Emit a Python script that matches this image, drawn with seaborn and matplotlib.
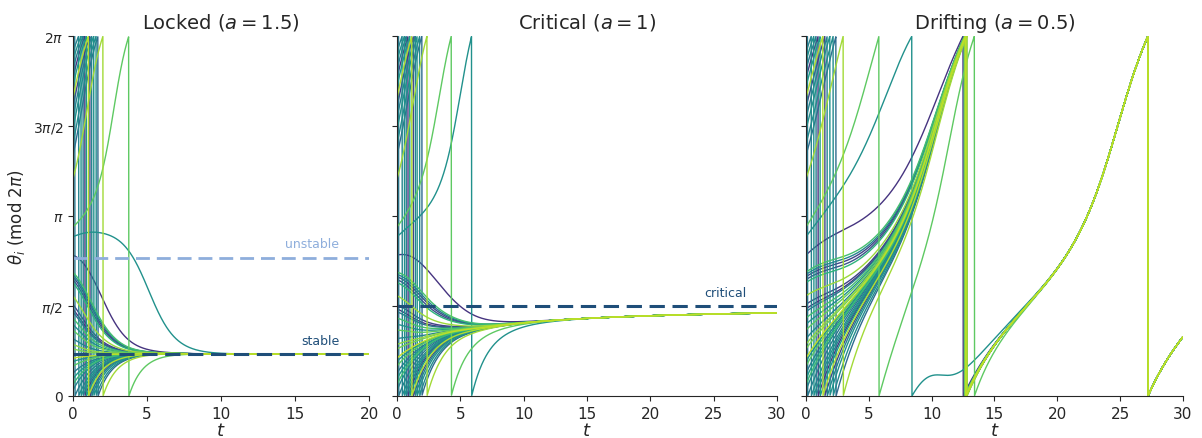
import numpy as np
import pandas as pd
import matplotlib
matplotlib.use("Agg")
import matplotlib.pyplot as plt
import seaborn as sns

# Three forcing regimes of the phase model
titles = ["Locked ($a = 1.5$)", "Critical ($a = 1$)", "Drifting ($a = 0.5$)"]
forcing = [1.5, 1.0, 0.5]
t_end = [20, 30, 30]

# Initial phases (rad) of the oscillator ensemble
theta0 = [6.20, 6.00, 5.85, 5.70, 5.55, 5.40, 5.20, 5.04,
          4.85, 4.65, 4.40, 4.20, 3.79,
          2.95, 2.78, 2.46,
          2.16, 2.12, 2.08, 2.03, 1.98,
          1.75, 1.60, 1.52, 1.47, 1.36, 1.25, 1.15, 1.00, 0.90, 0.82,
          0.66, 0.60, 0.52, 0.40, 0.30, 0.20, 0.10]
# Position of each oscillator on the viridis colour scale
hue_pos = [0.40, 0.45, 0.50, 0.42, 0.15, 0.55, 0.88, 0.20,
           0.45, 0.50, 0.48, 0.35, 0.86,
           0.75, 0.50, 0.15,
           0.70, 0.45, 0.20, 0.25, 0.65,
           0.85, 0.20, 0.15, 0.40, 0.70, 0.50, 0.75, 0.45, 0.83, 0.80,
           0.90, 0.52, 0.74, 0.40, 0.55, 0.68, 0.46]

rate = 0.5        # time scale of the forced phase equation
coupling = 0.45   # mean-field coupling strength
dt = 0.02

ytick_vals = [0, np.pi / 2, np.pi, 3 * np.pi / 2, 2 * np.pi]
ytick_labels = ["0", r"$\pi/2$", r"$\pi$", r"$3\pi/2$", r"$2\pi$"]

dark_blue = "#1f4e79"
light_blue = "#8eaedc"


def rhs(theta, a):
    z = np.exp(1j * theta).mean()
    mean_field = np.imag(z * np.exp(-1j * theta))
    return rate * (1.0 - a * np.sin(theta)) + coupling * mean_field


def integrate(a, t_max):
    n = int(t_max / dt)
    t = np.arange(n + 1) * dt
    th = np.array(theta0, dtype=float)
    out = np.empty((n + 1, th.size))
    out[0] = th
    for k in range(n):
        k1 = rhs(th, a)
        k2 = rhs(th + 0.5 * dt * k1, a)
        k3 = rhs(th + 0.5 * dt * k2, a)
        k4 = rhs(th + dt * k3, a)
        th = th + dt / 6 * (k1 + 2 * k2 + 2 * k3 + k4)
        out[k + 1] = th
    return t, out


sns.set_style("ticks")
plt.rcParams["font.family"] = ["DejaVu Sans"]
plt.rcParams["mathtext.fontset"] = "dejavusans"

fig = plt.figure(figsize=(12.02, 4.39), dpi=100)
boxes = [[0.0607, 0.0957, 0.2463, 0.820],
         [0.3303, 0.0957, 0.3161, 0.820],
         [0.6705, 0.0957, 0.3136, 0.820]]

cmap = plt.get_cmap("viridis")
# draw from the dark end of the scale to the bright end
order = sorted(range(len(theta0)), key=lambda i: hue_pos[i])
palette = {i: cmap(hue_pos[i]) for i in order}

for p, (title, a, tmax) in enumerate(zip(titles, forcing, t_end)):
    ax = fig.add_axes(boxes[p])
    t, traj = integrate(a, tmax)
    wrapped = np.mod(traj, 2 * np.pi)
    df = pd.DataFrame({
        "t": np.tile(t, len(order)),
        "theta": wrapped[:, order].T.ravel(),
        "osc": np.repeat(order, t.size),
    })
    sns.lineplot(data=df, x="t", y="theta", hue="osc", hue_order=order,
                 palette=palette, estimator=None, sort=False, lw=1.0,
                 legend=False, ax=ax)

    if a > 1:
        stable = np.arcsin(1 / a)
        unstable = np.pi - stable
        ax.axhline(unstable, color=light_blue, ls=(0, (5, 2.5)), lw=2.0)
        ax.axhline(stable, color=dark_blue, ls=(0, (5, 2.5)), lw=2.2)
        ax.text(0.9 * tmax, unstable + 0.13, "unstable", color=light_blue,
                ha="right", va="bottom", fontsize=9)
        ax.text(0.9 * tmax, stable + 0.13, "stable", color=dark_blue,
                ha="right", va="bottom", fontsize=9)
    elif a == 1:
        ax.axhline(np.pi / 2, color=dark_blue, ls=(0, (5, 2.5)), lw=2.2)
        ax.text(0.92 * tmax, np.pi / 2 + 0.13, "critical", color=dark_blue,
                ha="right", va="bottom", fontsize=9)

    ax.set_xlim(0, tmax)
    ax.set_ylim(0, 2 * np.pi)
    ax.set_yticks(ytick_vals)
    if p == 0:
        ax.set_yticklabels(ytick_labels)
        ax.set_ylabel(r"$\theta_i$ (mod $2\pi$)", fontsize=12)
    else:
        ax.set_yticklabels([])
        ax.set_ylabel("")
    ax.set_xticks(np.arange(0, tmax + 1, 5))
    ax.tick_params(axis="x", labelsize=11)
    ax.tick_params(axis="y", labelsize=10)
    ax.set_xlabel("$t$", fontsize=13, labelpad=0)
    ax.set_title(title, fontsize=14)
    sns.despine(ax=ax)

fig.savefig("out.png", dpi=100)
